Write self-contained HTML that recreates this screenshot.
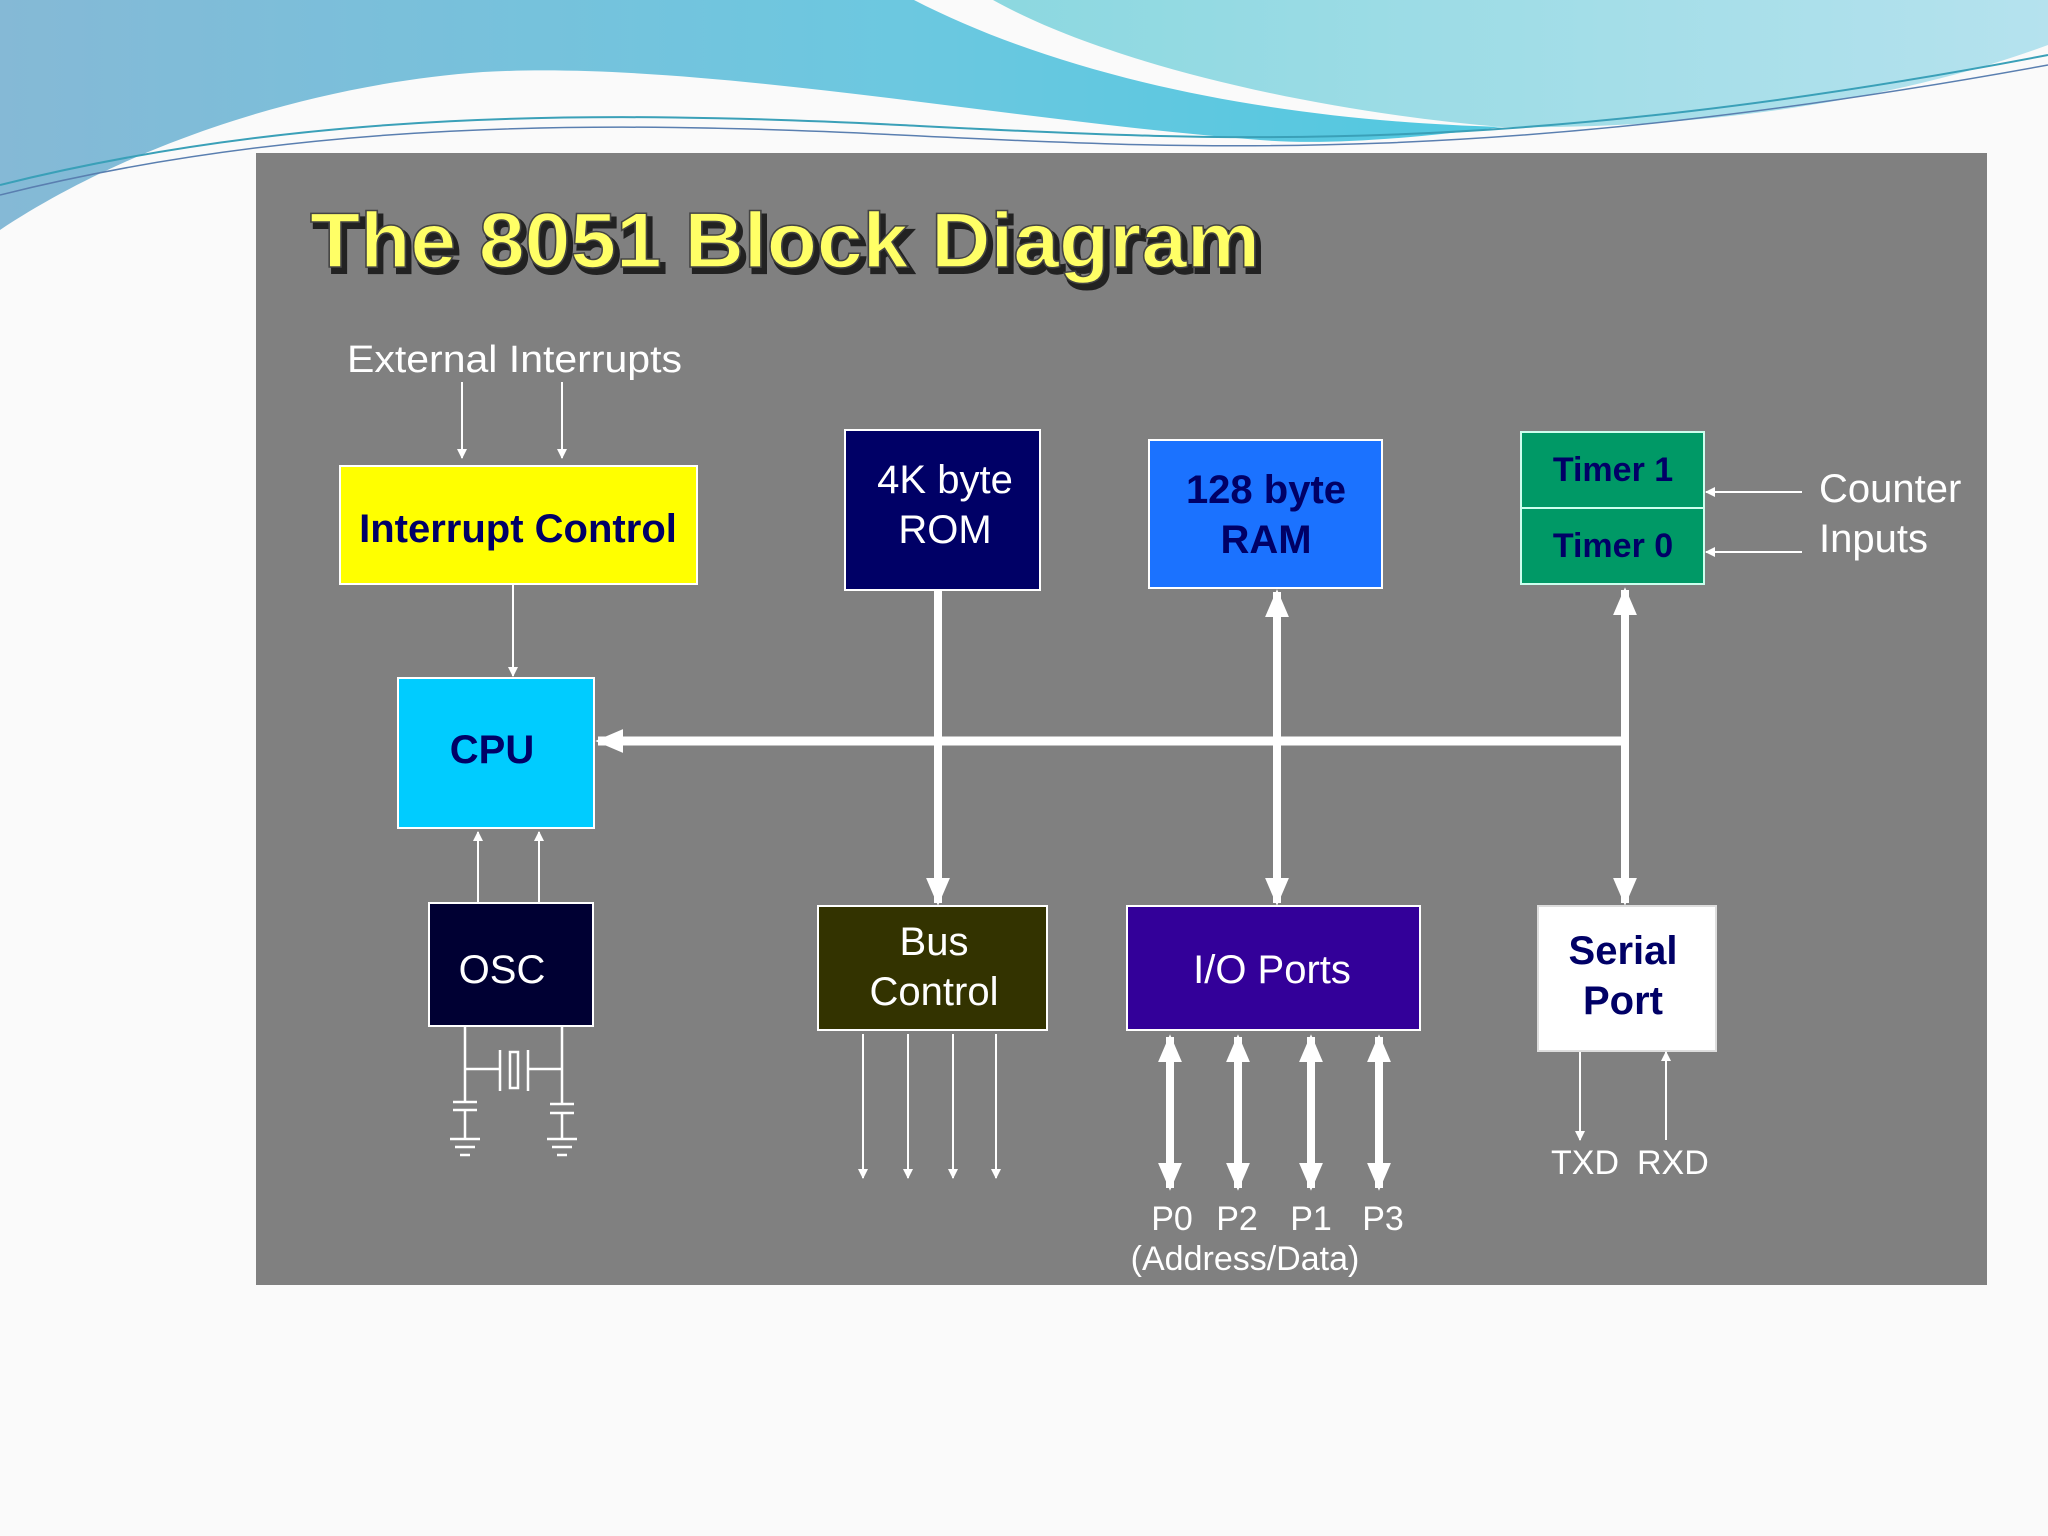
<!DOCTYPE html>
<html><head><meta charset="utf-8"><style>
html,body{margin:0;padding:0;width:2048px;height:1536px;overflow:hidden;background:#fff}
svg{display:block}
text{font-family:"Liberation Sans",Arial,sans-serif}
</style></head><body>
<svg width="2048" height="1536" viewBox="0 0 2048 1536" xmlns="http://www.w3.org/2000/svg">
<defs>
<linearGradient id="bg1" x1="0" y1="0" x2="1" y2="0"><stop offset="0" stop-color="#85b9d6"/><stop offset="0.6" stop-color="#6cc8e0"/><stop offset="1" stop-color="#50c8e0"/></linearGradient>
<linearGradient id="bg2" x1="0" y1="0" x2="1" y2="0"><stop offset="0" stop-color="#8cd8e0"/><stop offset="1" stop-color="#b5e2ee"/></linearGradient>
<marker id="ah" viewBox="0 0 10 10" refX="9" refY="5" markerWidth="10" markerHeight="10" markerUnits="userSpaceOnUse" orient="auto"><path d="M0,0 L10,5 L0,10 Z" fill="#fff"/></marker>
<marker id="bh" viewBox="0 0 10 10" refX="9" refY="5" markerWidth="28" markerHeight="24" markerUnits="userSpaceOnUse" orient="auto-start-reverse" preserveAspectRatio="none"><path d="M0,0 L10,5 L0,10 Z" fill="#fff"/></marker>
</defs>
<rect width="2048" height="1536" fill="#fafafa"/>
<!-- top waves -->
<path d="M0,0 L914,0 C1050,70 1250,120 1502,127 C1400,140 1320,145 1260,140 C1000,120 700,60 483,72 C300,85 120,150 0,230 Z" fill="url(#bg1)"/>
<path d="M993,0 L2048,0 L2048,45 C1900,100 1700,130 1502,127 C1300,110 1100,60 993,0 Z" fill="url(#bg2)"/>
<path d="M0,185 C300,110 600,110 900,125 C1200,140 1500,160 2048,55" fill="none" stroke="#3aa0b8" stroke-width="2"/>
<path d="M0,195 C300,120 600,120 900,135 C1200,150 1500,165 2048,65" fill="none" stroke="#5a7fb0" stroke-width="1.5"/>
<!-- panel -->
<rect x="256" y="153" width="1731" height="1132" fill="#808080"/>
<!-- title -->
<text x="314" y="272" font-size="78" font-weight="bold" fill="#222" stroke="#222" stroke-width="4" textLength="950" lengthAdjust="spacingAndGlyphs">The 8051 Block Diagram</text>
<text x="310" y="267" font-size="78" font-weight="bold" fill="#ffff66" stroke="#444" stroke-width="1.5" textLength="950" lengthAdjust="spacingAndGlyphs">The 8051 Block Diagram</text>
<!-- external interrupts -->
<text x="347" y="372" font-size="38" fill="#fff" textLength="335" lengthAdjust="spacingAndGlyphs">External  Interrupts</text>
<line x1="462" y1="382" x2="462" y2="458" stroke="#fff" stroke-width="2" marker-end="url(#ah)"/>
<line x1="562" y1="382" x2="562" y2="458" stroke="#fff" stroke-width="2" marker-end="url(#ah)"/>
<!-- interrupt control -->
<rect x="340" y="466" width="357" height="118" fill="#ffff00" stroke="#fff" stroke-width="2"/>
<text x="518" y="542" font-size="40" font-weight="bold" fill="#000066" text-anchor="middle">Interrupt Control</text>
<line x1="513" y1="585" x2="513" y2="676" stroke="#fff" stroke-width="2" marker-end="url(#ah)"/>
<!-- CPU -->
<rect x="398" y="678" width="196" height="150" fill="#00ccff" stroke="#fff" stroke-width="2"/>
<text x="492" y="763" font-size="40" font-weight="bold" fill="#000066" text-anchor="middle">CPU</text>
<!-- ROM -->
<rect x="845" y="430" width="195" height="160" fill="#000066" stroke="#fff" stroke-width="2"/>
<text x="945" y="493" font-size="40" fill="#fff" text-anchor="middle">4K byte</text>
<text x="945" y="543" font-size="40" fill="#fff" text-anchor="middle">ROM</text>
<!-- RAM -->
<rect x="1149" y="440" width="233" height="148" fill="#1b72ff" stroke="#fff" stroke-width="2"/>
<text x="1266" y="503" font-size="40" font-weight="bold" fill="#000066" text-anchor="middle">128 byte</text>
<text x="1266" y="553" font-size="40" font-weight="bold" fill="#000066" text-anchor="middle">RAM</text>
<!-- timers -->
<rect x="1521" y="432" width="183" height="76" fill="#009966" stroke="#ccffee" stroke-width="2"/>
<rect x="1521" y="508" width="183" height="76" fill="#009966" stroke="#ccffee" stroke-width="2"/>
<text x="1613" y="481" font-size="34" font-weight="bold" fill="#000066" text-anchor="middle">Timer 1</text>
<text x="1613" y="557" font-size="34" font-weight="bold" fill="#000066" text-anchor="middle">Timer 0</text>
<line x1="1802" y1="492" x2="1706" y2="492" stroke="#fff" stroke-width="2" marker-end="url(#ah)"/>
<line x1="1802" y1="552" x2="1706" y2="552" stroke="#fff" stroke-width="2" marker-end="url(#ah)"/>
<text x="1819" y="502" font-size="40" fill="#fff">Counter</text>
<text x="1819" y="552" font-size="40" fill="#fff">Inputs</text>
<!-- bus -->
<line x1="1629" y1="741" x2="598" y2="741" stroke="#fff" stroke-width="9" marker-end="url(#bh)"/>
<line x1="938" y1="591" x2="938" y2="903" stroke="#fff" stroke-width="8" marker-end="url(#bh)"/>
<line x1="1277" y1="592" x2="1277" y2="903" stroke="#fff" stroke-width="8" marker-start="url(#bh)" marker-end="url(#bh)"/>
<line x1="1625" y1="590" x2="1625" y2="903" stroke="#fff" stroke-width="8" marker-start="url(#bh)" marker-end="url(#bh)"/>
<!-- OSC -->
<line x1="478" y1="902" x2="478" y2="832" stroke="#fff" stroke-width="2" marker-end="url(#ah)"/>
<line x1="539" y1="902" x2="539" y2="832" stroke="#fff" stroke-width="2" marker-end="url(#ah)"/>
<rect x="429" y="903" width="164" height="123" fill="#000033" stroke="#fff" stroke-width="2"/>
<text x="502" y="983" font-size="40" fill="#fff" text-anchor="middle">OSC</text>
<g stroke="#fff" stroke-width="2.5" fill="none">
<path d="M465,1026 V1102 M562,1026 V1104"/>
<path d="M465,1069 H500 M528,1069 H562 M500,1050 V1091 M528,1050 V1091"/>
<rect x="510" y="1052" width="8" height="36"/>
<path d="M453,1102 H477 M453,1110 H477 M465,1110 V1138 M450,1139 H480 M455,1147 H475 M460,1155 H470"/>
<path d="M550,1104 H574 M550,1113 H574 M562,1113 V1139 M547,1139 H577 M552,1147 H572 M557,1155 H567"/>
</g>
<!-- Bus Control -->
<rect x="818" y="906" width="229" height="124" fill="#333300" stroke="#fff" stroke-width="2"/>
<text x="934" y="955" font-size="40" fill="#fff" text-anchor="middle">Bus</text>
<text x="934" y="1005" font-size="40" fill="#fff" text-anchor="middle">Control</text>
<g stroke="#fff" stroke-width="2">
<line x1="863" y1="1034" x2="863" y2="1178" marker-end="url(#ah)"/>
<line x1="908" y1="1034" x2="908" y2="1178" marker-end="url(#ah)"/>
<line x1="953" y1="1034" x2="953" y2="1178" marker-end="url(#ah)"/>
<line x1="996" y1="1034" x2="996" y2="1178" marker-end="url(#ah)"/>
</g>
<!-- IO Ports -->
<rect x="1127" y="906" width="293" height="124" fill="#330099" stroke="#fff" stroke-width="2"/>
<text x="1272" y="983" font-size="40" fill="#fff" text-anchor="middle">I/O Ports</text>
<g stroke="#fff" stroke-width="8">
<line x1="1170" y1="1037" x2="1170" y2="1188" marker-start="url(#bh)" marker-end="url(#bh)"/>
<line x1="1238" y1="1037" x2="1238" y2="1188" marker-start="url(#bh)" marker-end="url(#bh)"/>
<line x1="1311" y1="1037" x2="1311" y2="1188" marker-start="url(#bh)" marker-end="url(#bh)"/>
<line x1="1379" y1="1037" x2="1379" y2="1188" marker-start="url(#bh)" marker-end="url(#bh)"/>
</g>
<text x="1172" y="1230" font-size="34" fill="#fff" text-anchor="middle">P0</text>
<text x="1237" y="1230" font-size="34" fill="#fff" text-anchor="middle">P2</text>
<text x="1311" y="1230" font-size="34" fill="#fff" text-anchor="middle">P1</text>
<text x="1383" y="1230" font-size="34" fill="#fff" text-anchor="middle">P3</text>
<text x="1245" y="1270" font-size="34" fill="#fff" text-anchor="middle">(Address/Data)</text>
<!-- Serial Port -->
<rect x="1538" y="906" width="178" height="145" fill="#ffffff" stroke="#ddd" stroke-width="2"/>
<text x="1623" y="964" font-size="40" font-weight="bold" fill="#000066" text-anchor="middle">Serial</text>
<text x="1623" y="1014" font-size="40" font-weight="bold" fill="#000066" text-anchor="middle">Port</text>
<line x1="1580" y1="1052" x2="1580" y2="1140" stroke="#fff" stroke-width="2" marker-end="url(#ah)"/>
<line x1="1666" y1="1140" x2="1666" y2="1052" stroke="#fff" stroke-width="2" marker-end="url(#ah)"/>
<text x="1551" y="1174" font-size="34" fill="#fff">TXD</text>
<text x="1637" y="1174" font-size="34" fill="#fff">RXD</text>
</svg>
</body></html>
